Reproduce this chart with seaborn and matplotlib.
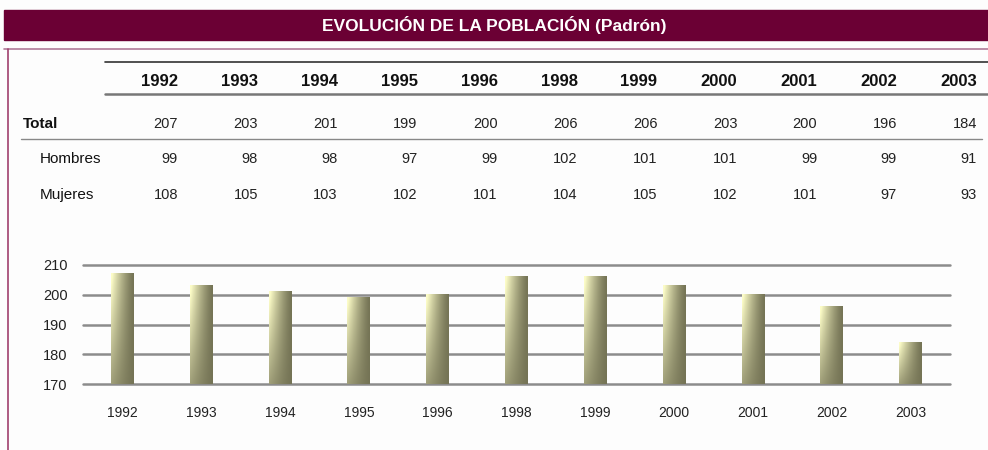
"""Evolución de la población (Padrón): tabla + gráfico de barras."""

import matplotlib

matplotlib.use("Agg")

import matplotlib.pyplot as plt
import numpy as np
import pandas as pd
import seaborn as sns
from matplotlib.lines import Line2D
from matplotlib.patches import Rectangle

years = ["1992", "1993", "1994", "1995", "1996", "1998", "1999", "2000", "2001", "2002", "2003"]
total = [207, 203, 201, 199, 200, 206, 206, 203, 200, 196, 184]
hombres = [99, 98, 98, 97, 99, 102, 101, 101, 99, 99, 91]
mujeres = [108, 105, 103, 102, 101, 104, 105, 102, 101, 97, 93]
row_labels = ["Total", "Hombres", "Mujeres"]
y_ticks = [170, 180, 190, 200, 210]

W, H = 988, 450
MAROON = "#6B0034"

sns.set_theme(style="white")
plt.rcParams["font.family"] = ["Liberation Sans", "DejaVu Sans"]

fig = plt.figure(figsize=(W / 100, H / 100), dpi=100)
fig.patch.set_facecolor("#FDFDFD")


def px(x, y):
    # pixel coords (top-left origin) -> figure fraction
    return x / W, 1 - y / H


def hline(x0, x1, y, color, lw):
    (a, b), (c, _) = px(x0, y), px(x1, y)
    fig.add_artist(Line2D([a, c], [b, b], color=color, lw=lw, transform=fig.transFigure))


# banner
x0, y0 = px(4, 40)
fig.add_artist(Rectangle((x0, y0), 1 - x0, 30 / H, color=MAROON, transform=fig.transFigure))
fig.text(0.5, 1 - 25 / H, "EVOLUCIÓN DE LA POBLACIÓN (Padrón)", color="white",
         fontsize=12.5, fontweight="bold", ha="center", va="center")

# frame of the content box
hline(4, W, 48.5, "#B07A98", 1.2)
fig.add_artist(Line2D([8 / W, 8 / W], [1 - 48.5 / H, 0], color="#A0406E", lw=1.2,
                      transform=fig.transFigure))

# table
hline(105, W, 62, "#333333", 1.2)
hline(105, W, 94, "#777777", 1.8)
hline(21, 982, 139, "#888888", 1.0)

col_right = [178 + 79.9 * i for i in range(len(years))]
for xr, yr in zip(col_right, years):
    fig.text(*px(xr, 81), yr, fontsize=12, fontweight="bold", ha="right", va="center",
             color="#111111")

rows = [total, hombres, mujeres]
row_y = [124, 159, 195]
row_x = [23, 40, 40]
for label, vals, yy, xl in zip(row_labels, rows, row_y, row_x):
    fig.text(*px(xl, yy), label, fontsize=11, ha="left", va="center", color="#111111",
             fontweight="bold" if label == "Total" else "normal")
    for xr, v in zip(col_right, vals):
        fig.text(*px(xr, yy), str(v), fontsize=10.5, ha="right", va="center",
                 color="#222222")

# chart
ax = fig.add_axes([83 / W, 1 - 384 / H, 867 / W, 119 / H])
ax.set_facecolor("none")
df = pd.DataFrame({"year": years, "total": total})
sns.barplot(data=df, x="year", y="total", color="#C8C79A", width=0.29, ax=ax, zorder=3,
            saturation=1)

ylo, yhi = 170, 210
ax.set_ylim(ylo, yhi)
xlim = ax.get_xlim()

# gradient fill for each bar (light yellow on the left, olive on the right/bottom)
light = np.array([253, 253, 200]) / 255
dark = np.array([108, 107, 78]) / 255
u = np.linspace(0, 1, 40)[None, :]
v = np.linspace(0, 1, 60)[:, None]
w = np.clip((1 - u) ** 1.3 * (0.3 + 0.7 * v) + 0.06, 0, 1)
grad = dark + w[..., None] * (light - dark)
for p in ax.patches:
    bx, bw, top = p.get_x(), p.get_width(), p.get_y() + p.get_height()
    p.set_facecolor("none")
    p.set_edgecolor("none")
    ax.imshow(grad, extent=[bx, bx + bw, ylo, top], origin="lower", aspect="auto",
              zorder=3, interpolation="bilinear")
ax.set_xlim(xlim)
ax.set_ylim(ylo, yhi)

for t in y_ticks:
    ax.axhline(t, color="#8C8C8C", lw=1.8, zorder=1, clip_on=False)

ax.set_yticks(y_ticks)
ax.set_yticklabels([str(t) for t in y_ticks], fontsize=10.5, color="#222222")
ax.set_xticks(range(len(years)))
ax.set_xticklabels(years, fontsize=10, color="#222222")
ax.tick_params(axis="y", length=0, pad=11)
ax.tick_params(axis="x", length=0, pad=16)
ax.set_xlabel("")
ax.set_ylabel("")
sns.despine(ax=ax, left=True, bottom=True)

fig.savefig("out.png", dpi=100, facecolor=fig.get_facecolor())
